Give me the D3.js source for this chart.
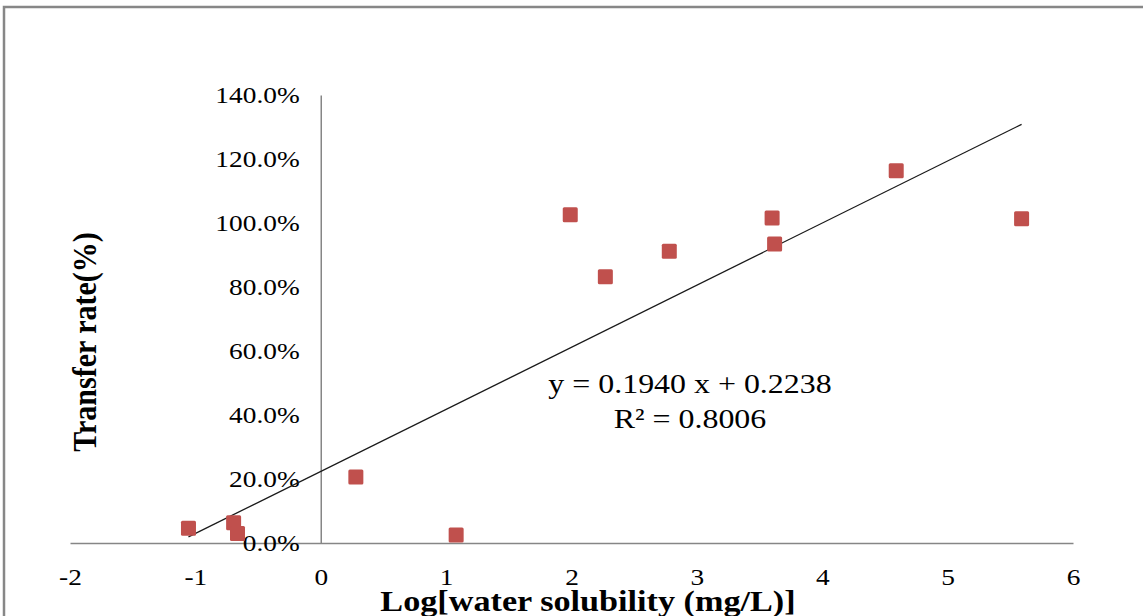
<!DOCTYPE html>
<html>
<head>
<meta charset="utf-8">
<script src="https://cdn.jsdelivr.net/npm/d3@7.9.0/dist/d3.min.js"></script>
<style>
  body { margin: 0; background: #fff; }
  svg { display: block; font-family: "Liberation Serif", "Times New Roman", serif; }
</style>
</head>
<body>
<svg id="chart" width="1143" height="616"></svg>
<script>
// log water solubility vs transfer rate
const logSolubility = [-1.055, -0.695, -0.664, 0.28, 1.08, 1.99, 2.27, 2.78, 3.60, 3.62, 4.59, 5.59];
const transferRate = [0.046, 0.063, 0.030, 0.206, 0.025, 1.026, 0.832, 0.912, 1.016, 0.934, 1.163, 1.013];

const xTicks = [-2, -1, 0, 1, 2, 3, 4, 5, 6];
const yTicks = [0, 0.2, 0.4, 0.6, 0.8, 1.0, 1.2, 1.4];

// trendline from the chart
const slope = 0.1940;
const intercept = 0.2238;
const eqLabel = 'y = 0.1940 x + 0.2238';
const r2Label = 'R\u00B2 = 0.8006';

const xTitle = 'Log[water solubility (mg/L)]';
const yTitle = 'Transfer rate(%)';

const stretch = 1.14; // text in the source is a bit wide

const svg = d3.select('#chart');

const x = d3.scaleLinear().domain([-2, 6]).range([70, 1073]);
const y = d3.scaleLinear().domain([0, 1.4]).range([543, 95]);

// outer frame
svg.append('rect')
    .attr('x', 4).attr('y', 7)
    .attr('width', 1300).attr('height', 800)
    .attr('fill', 'none')
    .attr('stroke', '#878787')
    .attr('stroke-width', 2.5);

// x axis
const xAxis = svg.append('g')
    .attr('transform', `translate(0,${y(0)})`)
    .call(d3.axisBottom(x).tickValues(xTicks).tickSize(0).tickPadding(25)
        .tickFormat(d => String(d)));

// y axis sits on x = 0
const yAxis = svg.append('g')
    .attr('transform', `translate(${x(0)},0)`)
    .call(d3.axisLeft(y).tickValues(yTicks).tickSize(0).tickPadding(18.5)
        .tickFormat(d3.format('.1%')));

[xAxis, yAxis].forEach(g => {
    g.select('.domain').attr('stroke', '#868686').attr('stroke-width', 1.5);
    g.selectAll('text')
        .attr('font-family', '"Liberation Serif", serif')
        .attr('font-size', 24)
        .attr('fill', '#000')
        .attr('transform', `scale(${stretch},1)`);
});

// trendline across the data range
const xMin = d3.min(logSolubility);
const xMax = d3.max(logSolubility);
svg.append('line')
    .attr('x1', x(xMin)).attr('y1', y(slope * xMin + intercept))
    .attr('x2', x(xMax)).attr('y2', y(slope * xMax + intercept))
    .attr('stroke', '#1a1a1a')
    .attr('stroke-width', 1.3);

// points
const points = logSolubility.map((v, i) => ({ x: v, y: transferRate[i] }));
const size = 15;
svg.append('g')
    .selectAll('rect')
    .data(points)
    .join('rect')
    .attr('x', d => x(d.x) - size / 2)
    .attr('y', d => y(d.y) - size / 2)
    .attr('width', size)
    .attr('height', size)
    .attr('rx', 1.5)
    .attr('fill', '#C0504D');

// equation label
const eq = svg.append('g').attr('transform', `translate(690,0) scale(${stretch},1)`);
eq.append('text')
    .attr('x', 0).attr('y', 393)
    .attr('text-anchor', 'middle')
    .attr('font-size', 28)
    .text(eqLabel);
eq.append('text')
    .attr('x', 0).attr('y', 428)
    .attr('text-anchor', 'middle')
    .attr('font-size', 28)
    .text(r2Label);

// axis titles
svg.append('text')
    .attr('transform', `translate(588,611) scale(${stretch},1)`)
    .attr('text-anchor', 'middle')
    .attr('font-weight', 'bold')
    .attr('font-size', 30)
    .text(xTitle);

svg.append('text')
    .attr('transform', `translate(96,342) scale(${stretch},1) rotate(-90)`)
    .attr('text-anchor', 'middle')
    .attr('font-weight', 'bold')
    .attr('font-size', 30)
    .text(yTitle);
</script>
</body>
</html>
